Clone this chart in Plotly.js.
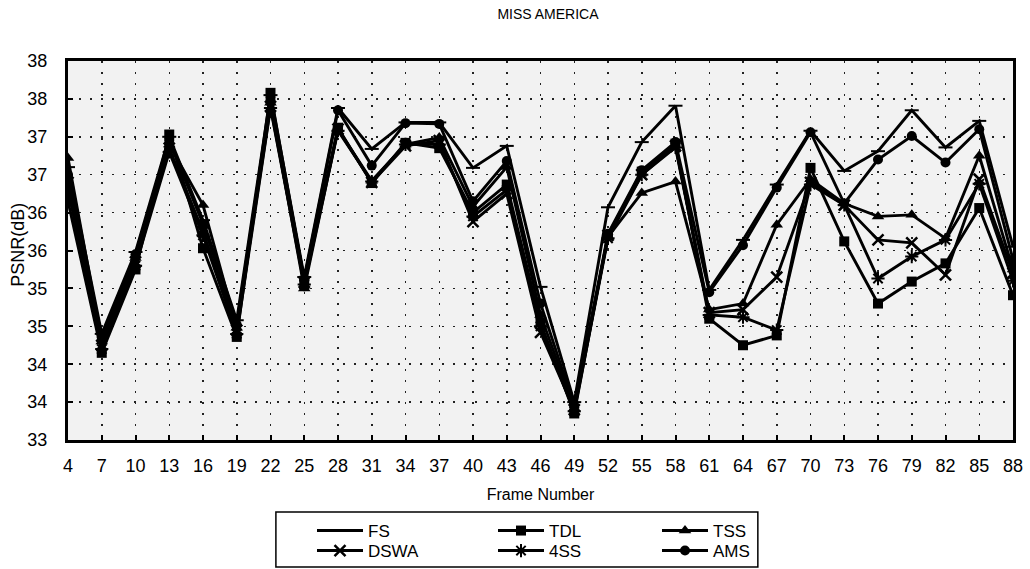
<!DOCTYPE html>
<html><head><meta charset="utf-8">
<script src="https://cdn.plot.ly/plotly-3.0.1.min.js"></script>
<style>html,body{margin:0;padding:0;background:#fff}#chart{width:1030px;height:569px}</style>
</head><body><div id="chart"></div>
<script>
const frames = [4,7,10,13,16,19,22,25,28,31,34,37,40,43,46,49,52,55,58,61,64,67,70,73,76,79,82,85,88];
const FS   = [36.6,34.4,35.48,37.0,35.9,34.58,37.55,35.15,37.38,36.84,37.19,37.19,36.59,36.88,35.02,33.5,36.07,36.93,37.41,34.98,35.64,36.37,37.08,36.55,36.81,37.35,36.86,37.21,35.55];
const TDL  = [36.15,34.15,35.25,37.03,35.53,34.36,37.58,35.1,37.12,36.39,36.92,36.85,36.0,36.37,34.55,33.35,35.7,36.54,36.91,34.6,34.25,34.38,36.59,35.62,34.8,35.09,35.33,36.06,34.91];
const TSS  = [36.72,34.3,35.4,36.9,36.1,34.48,37.45,35.0,37.1,36.42,36.9,36.99,36.08,36.6,34.65,33.42,35.68,36.26,36.41,34.72,34.8,35.84,36.44,36.12,35.95,35.97,35.66,36.75,35.25];
const DSWA = [36.4,34.25,35.35,36.85,35.75,34.45,37.4,35.08,37.1,36.4,36.88,36.95,35.88,36.25,34.42,33.4,35.7,36.5,36.88,34.68,34.72,35.15,36.4,36.1,35.64,35.6,35.18,36.44,35.2];
const SS4  = [36.3,34.2,35.3,36.8,35.7,34.4,37.38,35.05,37.08,36.41,36.9,36.9,35.95,36.3,34.5,33.38,35.66,36.5,36.86,34.65,34.62,34.45,36.37,36.1,35.13,35.42,35.64,36.38,35.1];
const AMS  = [36.5,34.35,35.45,36.95,35.85,34.52,37.5,35.12,37.35,36.62,37.18,37.17,36.15,36.68,34.8,33.45,35.72,36.56,36.93,34.95,35.57,36.33,37.06,36.12,36.7,37.01,36.66,37.1,35.38];
const yTickVals = [33,33.5,34,34.5,35,35.5,36,36.5,37,37.5,38];
const yTickText = ['33','34','34','35','35','36','36','37','37','38','38'];

const FONT = 'Liberation Sans, Arial, sans-serif';
function tr(name, y, symbol, size, legend, lw) {
  return {
    type: 'scatter', mode: 'lines+markers', name: name, x: frames, y: y,
    legend: legend,
    line: {color: '#000', width: 2.9},
    marker: {symbol: symbol, size: size, color: '#000', line: {color: '#000', width: lw}}
  };
}
const data = [
  tr('FS', FS, 'line-ew-open', 10, 'legend', 2),
  tr('TDL', TDL, 'square', 10, 'legend2', 0),
  tr('TSS', TSS, 'triangle-up', 11, 'legend3', 0),
  tr('DSWA', DSWA, 'x-thin-open', 11, 'legend4', 2.5),
  tr('4SS', SS4, 'asterisk-open', 11, 'legend5', 2),
  tr('AMS', AMS, 'circle', 10, 'legend6', 0)
];
const legBase = {xref: 'container', yref: 'container', xanchor: 'left', yanchor: 'top',
  orientation: 'v', bgcolor: 'rgba(0,0,0,0)', borderwidth: 0, itemwidth: 46, tracegroupgap: 0,
  font: {family: FONT, size: 17, color: '#000'}};
function leg(xpx, ypx) { return Object.assign({}, legBase, {x: xpx / 1030, y: 1 - ypx / 569}); }
const layout = {
  width: 1030, height: 569, autosize: false,
  margin: {l: 68, r: 17, t: 61, b: 129, autoexpand: false},
  paper_bgcolor: '#fff', plot_bgcolor: '#f2f2f2',
  font: {family: FONT, color: '#000'},
  title: {text: 'MISS AMERICA', x: 0.532, xanchor: 'center', y: 0.975, yanchor: 'middle',
    font: {family: FONT, size: 14, color: '#000'}},
  xaxis: {
    range: [4, 88], tickvals: frames, ticktext: frames.map(String), automargin: false,
    showline: true, mirror: true, linecolor: '#000', linewidth: 3,
    ticks: 'inside', ticklen: 5, tickwidth: 2, tickcolor: '#000',
    showgrid: true, gridcolor: '#222', gridwidth: 1.5, griddash: '2px,9px',
    zeroline: false, ticklabelstandoff: 7,
    tickfont: {family: FONT, size: 18, color: '#000'},
    title: {text: 'Frame Number', font: {family: FONT, size: 16, color: '#000'}}
  },
  yaxis: {
    range: [33, 38], tickvals: yTickVals, ticktext: yTickText, automargin: false,
    showline: true, mirror: true, linecolor: '#000', linewidth: 3,
    ticks: 'inside', ticklen: 5, tickwidth: 2, tickcolor: '#000',
    showgrid: true, gridcolor: '#222', gridwidth: 1.5, griddash: '2px,9px',
    zeroline: false, ticklabelstandoff: 14,
    tickfont: {family: FONT, size: 18, color: '#000'}
  },
  annotations: [{text: 'PSNR(dB)', xref: 'paper', yref: 'paper', x: -0.053, y: 0.515,
    xanchor: 'center', yanchor: 'middle', textangle: -90, showarrow: false,
    font: {family: FONT, size: 18, color: '#000'}}],
  legend: leg(312, 513),
  legend2: leg(493, 513),
  legend3: leg(657, 513),
  legend4: leg(312, 533),
  legend5: leg(493, 533),
  legend6: leg(657, 533),
  shapes: [{type: 'rect', xref: 'paper', yref: 'paper', x0: 0.220, x1: 0.730, y0: -0.335, y1: -0.190,
    line: {color: '#000', width: 1.5}, fillcolor: 'rgba(0,0,0,0)'}],
  showlegend: true
};
Plotly.newPlot('chart', data, layout, {displayModeBar: false, staticPlot: true});
</script></body></html>
